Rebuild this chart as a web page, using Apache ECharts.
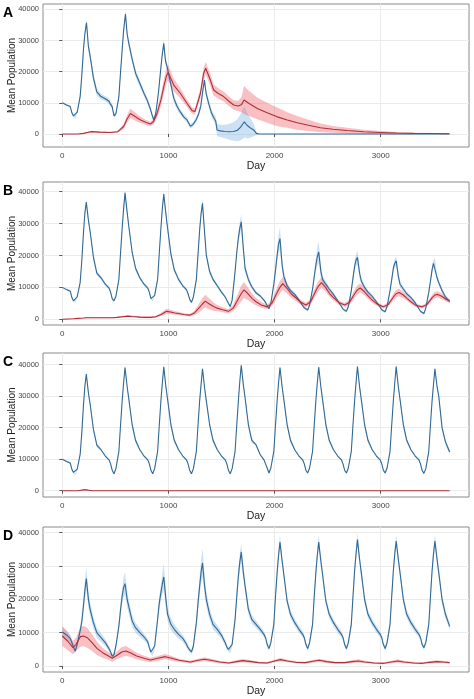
<!DOCTYPE html>
<html><head><meta charset="utf-8">
<script src="https://cdn.jsdelivr.net/npm/echarts@6/dist/echarts.min.js"></script>
<style>html,body{margin:0;padding:0;background:#fff}#c{width:474px;height:699px}</style>
</head><body><div id="c"></div>
<script>
// ---------- DATA ----------
const xTicks = [0, 1000, 2000, 3000];
const yTicks = [0, 10000, 20000, 30000, 40000];
const panelLabels = ['A', 'B', 'C', 'D'];

// Panel A
const aBlueDays = [0,40,75,90,105,122,140,168,184,199,212,228,246,262,293,325,
 365,405,440,455,470,487,505,533,549,564,577,595,611,627,658,690,
 737,770,799,830,846,862,880,905,925,940,956,972,988,1019,1050,
 1082,1113,1144,1175,1207,1230,1260,1285,1305,1322,1339,1355,1379,1405,1426,1445,
 1458,1490,1530,1570,1614,1650,1680,1700,1715,1740,1770,1803,1828,1850,3650];
const aBlueVals = [10000,9300,8800,6800,5800,5500,7000,12000,19000,27000,32000,35700,28000,25000,18000,13500,
 12000,11300,10500,9500,8800,5800,6500,12000,20000,27000,33000,38500,32000,29000,24000,19500,
 15700,13000,10900,8000,6100,4500,6500,13000,20000,25000,29100,23500,21500,16500,11500,
 8800,7000,5500,4500,2500,3000,4500,6500,9000,13500,17300,13000,9800,6800,5300,4200,
 1300,1000,800,700,800,1200,2200,3200,3900,2800,2000,1300,200,0,0];
const aBlueHw = [200,300,300,400,400,500,500,700,900,1000,1000,1200,1200,1200,1500,1200,
 900,800,900,900,800,700,700,800,1000,1000,1000,1200,1200,1200,1200,1200,
 1000,900,900,800,700,700,700,900,1000,1000,1200,1200,1200,1200,1200,
 1000,900,800,800,700,700,800,900,1000,1000,1200,1200,1200,1200,1200,1500,
 2000,2000,2200,2500,3000,3500,4200,4800,5000,4200,3200,2000,600,0,0];
const aRedDays = [0,150,200,270,350,450,520,578,610,642,700,737,790,830,860,893,930,956,980,997,
 1020,1050,1113,1176,1223,1250,1301,1332,1351,1395,1426,1470,1520,1570,1614,1660,1690,1712,1760,1837,
 1930,2025,2120,2213,2320,2433,2550,2684,2840,2997,3150,3311,3480,3646];
const aRedVals = [0,0,200,750,600,500,700,2400,4800,6600,5300,4500,3700,3200,4000,6600,11000,15200,18500,19700,
 18000,15700,13000,9800,7500,7200,13000,19500,21100,17300,14100,13000,12000,10500,9300,9000,9500,10900,9800,8200,
 6800,5500,4500,3600,2800,2000,1500,1100,700,500,300,200,150,100];
const aRedHw = [0,0,100,300,200,200,300,800,1200,1500,1300,1000,800,700,900,1500,2000,2300,2500,2500,
 2300,2000,1600,1200,1000,1000,1500,2000,2000,2000,1800,1700,1600,1500,1500,1700,2500,4500,4000,3500,
 3200,3000,2500,2200,1800,1400,1100,900,700,500,350,200,150,100];

// Shared sample days for the blue series of panels B, C, D
const blueDays = [0,40,75,90,105,122,140,168,184,199,212,226,246,262,293,325,
 365,405,440,455,470,487,505,533,549,564,577,591,611,627,658,690,
 730,770,805,820,835,852,870,898,914,929,942,956,976,992,1023,1055,
 1095,1135,1170,1185,1200,1217,1235,1263,1279,1294,1307,1321,1341,1357,1388,1420,
 1460,1500,1535,1550,1565,1582,1600,1628,1644,1659,1672,1686,1706,1722,1753,1785,
 1825,1865,1900,1915,1930,1947,1965,1993,2009,2024,2037,2051,2071,2087,2118,2150,
 2190,2230,2265,2280,2295,2312,2330,2358,2374,2389,2402,2416,2436,2452,2483,2515,
 2555,2595,2630,2645,2660,2677,2695,2723,2739,2754,2767,2781,2801,2817,2848,2880,
 2920,2960,2995,3010,3025,3042,3060,3088,3104,3119,3132,3146,3166,3182,3213,3245,
 3285,3325,3360,3375,3390,3407,3425,3453,3469,3484,3497,3511,3531,3547,3578,3610,
 3650];

// Panel B
const bBlueVals = [10000,9300,8800,6800,5800,5500,7000,11500,18500,27000,33000,36700,31000,27500,19500,14500,
 13000,11000,9800,8500,6500,5800,7200,12500,21000,28500,34500,39600,33500,29000,21000,16000,
 13000,11000,9800,8500,6500,6000,7500,12500,21000,28500,34500,39200,33000,28500,20500,15500,
 12500,10500,9300,8000,6300,5300,7000,12500,20500,28000,33000,36300,27000,20000,15000,12500,
 10500,8500,7000,6000,5000,4000,6000,15000,21000,25500,28500,30500,22000,16000,12500,10200,
 8300,7300,6000,5300,4300,3300,5000,11000,15500,20000,23500,25300,17000,13500,10500,9000,
 7800,6000,4300,3600,3200,2900,4500,9500,13500,17000,19500,21100,15000,12500,11000,9500,
 7800,5800,4000,3200,2700,2500,4000,9000,13000,16500,18500,19400,14500,12000,10000,8500,
 7200,5500,3800,3000,2600,2400,4000,9000,12500,16000,17500,18300,13500,11000,9500,8000,
 6800,5200,3300,2500,2000,1800,3500,8500,12000,15500,17500,18000,13000,11500,9000,7000,
 5500];
const bBlueHw = [200,300,300,300,300,300,300,400,500,600,700,800,800,900,1000,800,
 600,500,500,500,400,400,400,500,600,700,800,1000,900,900,1000,800,
 600,500,500,500,400,400,400,500,600,700,800,1000,900,900,1000,800,
 600,500,500,500,400,400,400,600,800,1000,1200,1500,1200,1000,900,700,
 600,500,500,400,400,400,500,800,1200,1500,2000,2500,1800,1200,900,700,
 600,500,500,400,400,400,500,800,1500,2000,2800,3500,2000,1200,900,700,
 600,500,400,400,400,400,500,800,1500,2000,2800,3500,2000,1200,900,700,
 600,500,400,400,400,400,500,800,1200,1500,1800,2200,1500,1000,800,700,
 600,500,400,400,400,400,500,700,1000,1200,1400,1500,1200,1000,800,700,
 600,500,400,400,400,400,500,700,900,1000,1100,1200,1000,900,800,700,
 600];
const bRedDays = [0,50,105,150,200,225,252,290,330, 365,415,470,515,565,590,617,655,695,
 730,780,835,880,930,955,982,1020,1060, 1095,1145,1200,1245,1295,1320,1347,1385,1425,
 1460,1510,1565,1610,1660,1685,1712,1750,1790, 1825,1875,1930,1975,2025,2050,2077,2115,2155,
 2190,2240,2295,2340,2390,2415,2442,2480,2520, 2555,2605,2660,2705,2755,2780,2807,2845,2885,
 2920,2970,3025,3070,3120,3145,3172,3210,3250, 3285,3335,3390,3435,3485,3510,3537,3575,3615, 3650];
const bRedVals = [0,100,200,300,400,500,500,500,500, 500,500,500,600,800,900,1000,900,800,
 700,600,600,800,1500,2000,2500,2300,2000, 1800,1500,1300,2000,3800,4800,5700,4800,4000,
 3500,3000,2500,3500,6500,8000,9200,8000,6500, 5500,4500,3900,5000,8500,10000,11200,9800,8000,
 7000,5500,4500,5500,9000,10500,11500,10000,8000, 6800,5300,4500,5300,8000,9200,9800,8700,7200,
 6000,4700,3900,4600,7000,8000,8400,7700,6500, 5500,4300,3900,4600,6800,7600,7800,7200,6300, 5800];
const bRedHw = [50,50,100,100,100,150,150,150,150, 150,150,150,200,300,300,300,300,300,
 250,250,250,300,500,700,800,700,600, 500,400,400,700,1500,1800,2000,1700,1300,
 1000,800,700,1000,2000,2500,2500,2000,1500, 1200,900,700,1000,1700,2000,2000,1600,1200,
 1000,800,700,900,1500,1600,1600,1300,1000, 900,700,600,800,1300,1400,1400,1200,900,
 800,600,500,700,1100,1200,1200,1000,800, 700,500,500,600,900,1000,1000,900,700, 600];

// Panel C
const cBlueVals = [10000,9300,8800,6800,5800,5300,6800,11500,18500,27000,33000,37000,31000,27500,19500,14500,
 13000,11000,9800,8500,6500,5400,7000,12500,21000,28500,34000,39100,33000,29000,21000,16000,
 13000,11000,9800,8500,6500,5400,7000,12500,21000,28500,34000,39300,33000,29000,21000,16000,
 13000,11000,9800,8500,6500,5400,7000,12500,21000,28500,33500,38700,32500,28500,21000,16000,
 13000,11000,9800,8500,6500,5400,7000,12500,21000,28500,34500,39800,33500,29500,21000,16000,
 14600,11400,9800,8500,7200,5600,7200,12500,21000,28500,34000,39100,33000,29000,21000,16000,
 13000,11000,9800,8500,6500,5600,7200,12500,21000,28500,34000,39200,33000,29000,21000,16000,
 13000,11000,9800,8500,6500,5600,7200,12500,21000,28500,34000,39400,33000,29000,21000,16000,
 13000,11000,9800,8500,6500,5600,7200,12500,21000,28500,34000,39400,33000,29000,21000,16000,
 13000,11000,9800,8500,6500,5500,7000,12500,21000,28500,33500,38700,33000,30000,20000,15500,
 12300];
const cBlueHw = [200,300,300,300,300,300,300,400,500,500,600,700,700,800,1000,900,
 300,300,300,300,300,300,300,400,500,500,600,700,700,800,1000,900,
 300,300,300,300,300,300,300,400,500,500,600,700,700,800,1000,900,
 300,300,300,300,300,300,300,400,500,500,600,700,700,800,1000,900,
 300,300,300,300,300,300,300,400,500,500,600,700,700,800,1000,900,
 300,300,300,300,300,300,300,400,500,500,600,700,700,800,1000,900,
 300,300,300,300,300,300,300,400,500,500,600,700,700,800,1000,900,
 300,300,300,300,300,300,300,400,500,500,600,700,700,800,1000,900,
 300,300,300,300,300,300,300,400,500,500,600,700,700,800,1000,900,
 300,300,300,300,300,300,300,400,500,500,600,700,700,800,1000,900,
 800];
const cRedDays = [0,150,175,200,225,250,280,3650];
const cRedVals = [0,0,150,250,250,150,0,0];
const cRedHw = [0,0,150,250,250,150,0,0];

// Panel D
const dBlueVals = [10200,9300,8200,7000,5700,4500,6500,10500,13500,18000,22500,26200,20000,17000,13000,10000,
 8500,7000,5200,4200,2900,3500,6000,12000,17000,21000,23500,24700,20000,17700,13500,11500,
 10000,8700,7300,5500,4200,3700,6000,14000,19000,22000,24500,26700,20000,15500,12500,11000,
 9500,8300,6500,5500,4800,4200,6000,13000,19000,24000,28000,30900,24000,20000,15500,12500,
 11000,9200,7000,5700,5000,4500,6500,14000,21000,27000,31000,34200,28000,24000,17000,14000,
 12500,11000,9500,8500,6500,5200,7000,12500,21000,28000,33000,37200,31500,27500,19500,15500,
 13000,11000,9500,8500,6500,5200,7000,12500,21000,28000,33000,37200,31500,27500,19500,15500,
 13000,11000,9500,8500,6500,5200,7000,12500,21000,28500,33500,37900,32000,28000,20000,15500,
 13000,11000,9500,8500,6500,5200,7000,12500,21000,28500,33500,37500,32000,28000,20000,15500,
 13000,11000,9500,8500,6500,5500,7000,12500,21000,28500,33500,37500,32000,28000,20000,15500,
 11900];
const dBlueHw = [1500,1300,1200,1000,900,800,900,1200,1800,2500,3000,3500,2500,2000,1800,1500,
 1300,1000,900,800,700,700,900,1500,2000,2500,3000,3500,2500,2000,1800,1500,
 1300,1000,900,800,700,700,900,1500,2000,2500,3000,4000,2800,2000,1800,1500,
 1300,1000,900,800,700,700,900,1500,2200,2800,3500,4300,3000,2200,1800,1500,
 1300,1000,900,800,700,700,900,1500,2000,2200,2500,2500,2000,1800,1500,1300,
 1100,1000,900,800,700,700,800,1200,1500,1800,2000,2000,1600,1400,1300,1200,
 1100,1000,900,800,700,700,800,1200,1500,1800,2000,2000,1600,1400,1300,1200,
 1100,1000,900,800,700,700,800,1200,1500,1800,2000,2000,1600,1400,1300,1200,
 1100,1000,900,800,700,700,800,1200,1500,1800,2000,2000,1600,1400,1300,1200,
 1100,1000,900,800,700,700,800,1200,1500,1800,2000,2000,1600,1400,1300,1200,
 1000];
const dRedDays = [0,50,100,130,170,200,235,280,329,380,423,470,520,560,600,650,700,770,831,900,
 970,1030,1100,1207,1280,1340,1400,1480,1570,1640,1700,1780,1850,1930,2000,2055,2120,2200,2290,2360,
 2420,2490,2570,2660,2730,2790,2850,2940,3030,3100,3160,3220,3310,3395,3460,3530,3590,3650];
const dRedVals = [9000,7500,5500,6500,8800,9000,8500,7000,5200,4000,3200,2300,3300,4200,4500,3800,3000,2300,1800,2300,
 2800,2300,1700,1200,1700,2000,1700,1200,900,1300,1600,1300,1000,900,1500,1900,1500,1100,1000,1400,
 1700,1300,1000,1000,1300,1500,1200,900,800,1200,1500,1200,900,800,1100,1300,1200,1000];
const dRedHw = [3000,2800,2000,2000,3000,3000,3000,2500,2000,1500,1200,1000,1200,1500,1500,1200,1000,800,700,700,
 800,700,500,400,500,600,500,400,300,400,500,400,300,300,400,500,400,300,300,400,
 500,400,300,300,400,500,400,300,300,400,500,400,300,300,400,400,300,300];

// ---------- LAYOUT / STYLE ----------
const BLUE_LINE = '#316993', BLUE_BAND = 'rgba(122,176,226,0.38)';
const RED_LINE = '#b02e3b', RED_BAND = 'rgba(240,105,115,0.42)';
const FONT = 'Liberation Sans, Arial, sans-serif';

const panels = [
  {top: 4,   height: 143, ymin: -4170, ymax: 41700,
   blue: [aBlueDays, aBlueVals, aBlueHw], red: [aRedDays, aRedVals, aRedHw]},
  {top: 182, height: 143, ymin: -1780, ymax: 43000,
   blue: [blueDays, bBlueVals, bBlueHw], red: [bRedDays, bRedVals, bRedHw]},
  {top: 353, height: 144, ymin: -2000, ymax: 43700,
   blue: [blueDays, cBlueVals, cBlueHw], red: [cRedDays, cRedVals, cRedHw]},
  {top: 527, height: 145, ymin: -1800, ymax: 41680,
   blue: [blueDays, dBlueVals, dBlueHw], red: [dRedDays, dRedVals, dRedHw]}
];
panels.forEach((p, i) => {
  [p.blue, p.red].forEach(s => {
    if (s[0].length !== s[1].length || s[0].length !== s[2].length)
      throw new Error('length mismatch panel ' + i + ': ' + s[0].length + ' ' + s[1].length + ' ' + s[2].length);
  });
});

function bandSeries(idx, s, color) {
  const days = s[0], mean = s[1], hw = s[2];
  return {
    type: 'custom', xAxisIndex: idx, yAxisIndex: idx, silent: true, clip: true,
    animation: false,
    data: days.map((d, i) => [d, mean[i] - hw[i], mean[i] + hw[i]]),
    encode: {x: 0, y: [1, 2]},
    renderItem: function (params, api) {
      if (params.dataIndex !== 0) return null;
      const pts = [];
      for (let i = 0; i < days.length; i++) pts.push(api.coord([days[i], mean[i] + hw[i]]));
      for (let i = days.length - 1; i >= 0; i--) pts.push(api.coord([days[i], mean[i] - hw[i]]));
      return {type: 'polygon', shape: {points: pts}, style: {fill: color}};
    }
  };
}
function lineSeries(idx, s, color) {
  const days = s[0], mean = s[1];
  return {
    type: 'line', xAxisIndex: idx, yAxisIndex: idx, silent: true, animation: false,
    showSymbol: false, symbol: 'none',
    data: days.map((d, i) => [d, mean[i]]),
    lineStyle: {color: color, width: 1.1}
  };
}

const grids = [], xAxes = [], yAxes = [], series = [], graphics = [];
panels.forEach((p, i) => {
  grids.push({left: 43, width: 426, top: p.top, height: p.height, show: true,
    borderColor: '#8a8a8a', borderWidth: 1, backgroundColor: '#fff',
    containLabel: false, outerBoundsMode: 'none'});
  xAxes.push({type: 'value', gridIndex: i, min: -182, max: 3832, minInterval: 1000, maxInterval: 1000,
    name: 'Day', nameLocation: 'middle', nameGap: 14,
    nameTextStyle: {fontFamily: FONT, fontSize: 10.5, color: '#222'},
    axisLine: {show: false},
    axisTick: {show: true, length: 3, lineStyle: {color: '#555'}, customValues: xTicks},
    axisLabel: {fontFamily: FONT, fontSize: 8, color: '#444', margin: 5,
      customValues: xTicks,
      formatter: v => (xTicks.indexOf(v) >= 0 ? String(v) : '')},
    splitLine: {show: true, lineStyle: {color: '#ebebeb', width: 1}}
  });
  yAxes.push({type: 'value', gridIndex: i, min: p.ymin, max: p.ymax, minInterval: 10000, maxInterval: 10000,
    name: 'Mean Population', nameLocation: 'middle', nameGap: 26, nameRotate: 90,
    nameMoveOverlap: false,
    nameTextStyle: {fontFamily: FONT, fontSize: 10, color: '#222'},
    axisLine: {show: false},
    axisTick: {show: true, length: 3, lineStyle: {color: '#555'}, customValues: yTicks},
    axisLabel: {fontFamily: FONT, fontSize: 7.5, color: '#444', margin: 4,
      customValues: yTicks,
      formatter: v => (yTicks.indexOf(v) >= 0 ? String(v) : '')},
    splitLine: {show: true, lineStyle: {color: '#ebebeb', width: 1}}
  });
  graphics.push({type: 'text', left: 3, top: p.top + 2,
    style: {text: panelLabels[i], font: 'bold 14px ' + FONT, fill: '#000'}});
});
panels.forEach((p, i) => series.push(bandSeries(i, p.blue, BLUE_BAND)));
panels.forEach((p, i) => series.push(bandSeries(i, p.red, RED_BAND)));
panels.forEach((p, i) => series.push(lineSeries(i, p.blue, BLUE_LINE)));
panels.forEach((p, i) => series.push(lineSeries(i, p.red, RED_LINE)));

const chart = echarts.init(document.getElementById('c'), null, {renderer: 'canvas'});
chart.setOption({
  backgroundColor: '#fff', animation: false,
  grid: grids, xAxis: xAxes, yAxis: yAxes, series: series, graphic: graphics
});
</script></body></html>
